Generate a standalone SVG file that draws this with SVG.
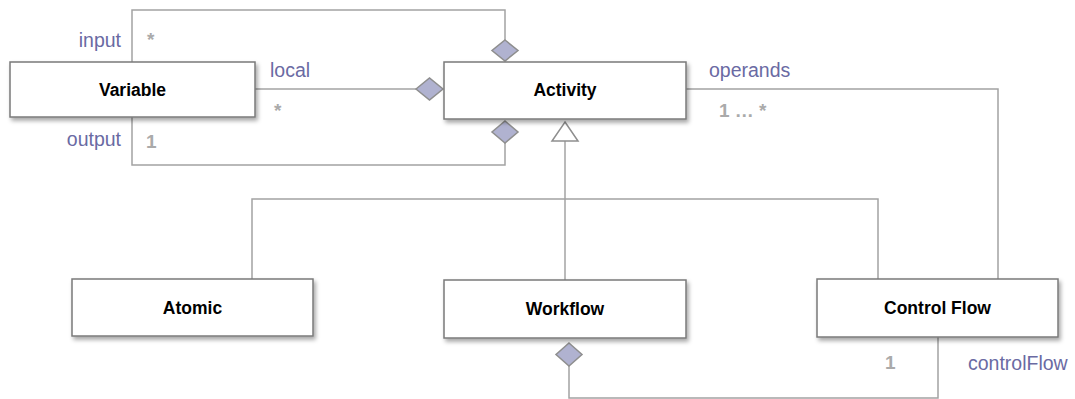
<svg xmlns="http://www.w3.org/2000/svg" width="1075" height="399" viewBox="0 0 1075 399">
<defs>
<filter id="sh" x="-10%" y="-20%" width="130%" height="160%">
<feDropShadow dx="2" dy="3" stdDeviation="2" flood-color="#000" flood-opacity="0.35"/>
</filter>
</defs>
<style>
.box{fill:#fff;stroke:#7a7a7a;stroke-width:1.5;filter:url(#sh)}
.name{font-family:"Liberation Sans",Arial,sans-serif;font-weight:bold;font-size:17.5px;fill:#000;text-anchor:middle}
.line{fill:none;stroke:#a3a3a3;stroke-width:1.5}
.dia{fill:#b0b2d0;stroke:#8e8e8e;stroke-width:1.5}
.tri{fill:#fff;stroke:#8e8e8e;stroke-width:1.5}
.role{font-family:"Liberation Sans",Arial,sans-serif;font-size:19.5px;fill:#6a6aa3}
.mult{font-family:"Liberation Sans",Arial,sans-serif;font-weight:bold;font-size:19px;fill:#aaaaaa}
</style>
<rect width="1075" height="399" fill="#fff"/>
<g id="connectors">
<polyline class="line" points="132,62 132,10 505,10 505,40"/>
<line class="line" x1="255" y1="89" x2="416" y2="89"/>
<polyline class="line" points="132,117 132,165 505,165 505,143"/>
<polyline class="line" points="686,89 998,89 998,279"/>
<line class="line" x1="565" y1="141" x2="565" y2="280"/>
<polyline class="line" points="252,279 252,199 878,199 878,279"/>
<polyline class="line" points="569,366 569,398 938,398 938,337"/>
<polygon class="dia" points="505,40 518,50.5 505,61 492,50.5"/>
<polygon class="dia" points="416,89 429.5,78 443,89 429.5,100"/>
<polygon class="dia" points="505,121 518,132 505,143 492,132"/>
<polygon class="dia" points="569,343 582,354.5 569,366 556,354.5"/>
<polygon class="tri" points="565,122 578,141 552,141"/>
<text class="role" x="121" y="47" text-anchor="end">input</text>
<text class="mult" x="147" y="46">*</text>
<text class="role" x="270" y="77">local</text>
<text class="mult" x="274" y="117">*</text>
<text class="role" x="121" y="146" text-anchor="end">output</text>
<text class="mult" x="146" y="148">1</text>
<text class="role" x="709" y="77">operands</text>
<text class="mult" x="719" y="117">1 … *</text>
<text class="mult" x="885" y="369">1</text>
<text class="role" x="968" y="370">controlFlow</text>
</g>
<g id="variable">
<rect class="box" x="10" y="62" width="245" height="55"/>
<text class="name" x="132.5" y="96">Variable</text>
</g>
<g id="activity">
<rect class="box" x="444" y="62" width="242" height="57"/>
<text class="name" x="565" y="96">Activity</text>
</g>
<g id="atomic">
<rect class="box" x="72" y="279" width="241" height="57"/>
<text class="name" x="192.5" y="314">Atomic</text>
</g>
<g id="workflow">
<rect class="box" x="444" y="280" width="242" height="58"/>
<text class="name" x="565" y="315">Workflow</text>
</g>
<g id="controlflow">
<rect class="box" x="817" y="279" width="241" height="58"/>
<text class="name" x="937.5" y="314">Control Flow</text>
</g>
</svg>
